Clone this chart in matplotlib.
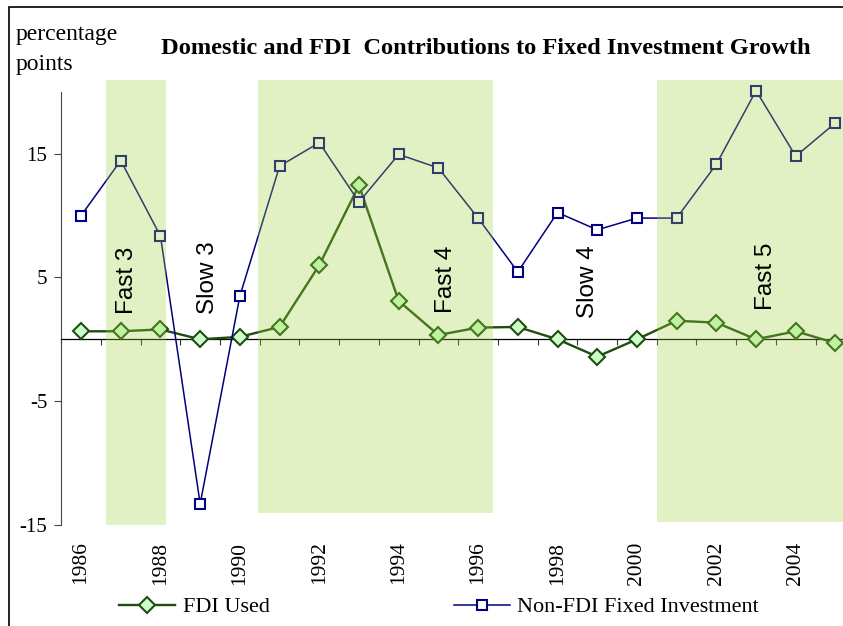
import numpy as np
import matplotlib.pyplot as plt
from matplotlib.patches import Rectangle

# contributions to fixed investment growth, percentage points
years = np.arange(1986, 2006)
fdi_used = [0.65, 0.65, 0.8, 0.0, 0.2, 1.0, 6.0, 12.45, 3.1, 0.35,
            0.95, 1.0, 0.0, -1.4, 0.0, 1.5, 1.35, 0.0, 0.65, -0.3]
non_fdi = [10.0, 14.45, 8.35, -13.3, 3.5, 14.0, 15.9, 11.1, 14.95, 13.85,
           9.8, 5.45, 10.25, 8.85, 9.8, 9.8, 14.15, 20.1, 14.8, 17.5]

# fast growth phases (shaded) and phase labels
fast_start = [1986.63, 1990.46, 2000.5]
fast_end = [1988.13, 1996.37, 2006.0]
fast_bottom = [-15.0, -14.0, -14.8]
phase_names = ["Fast 3", "Slow 3", "Fast 4", "Slow 4", "Fast 5"]
phase_x = [1987.16, 1989.2, 1995.2, 1998.77, 2003.25]
phase_y = [2.05, 2.05, 2.1, 1.72, 2.37]

SERIF = "Liberation Serif"
SANS = "Liberation Sans"

fig = plt.figure(figsize=(8.43, 6.26), dpi=100)
ax = fig.add_axes([0.0726, 0.1615, 0.942, 0.6917])
ax.set_xlim(1985.5, 2005.5)
ax.set_ylim(-15, 20)

ax.plot(years, fdi_used, color='#1e4d0f', lw=1.7, marker='D', ms=8,
        mfc='#ccffcc', mec='#1e4d0f', mew=1.5, label='FDI Used',
        zorder=3, clip_on=False)
ax.plot(years, non_fdi, color='#000080', lw=1.1, marker='s', ms=7,
        mfc='white', mec='#000080', mew=1.5,
        label='Non-FDI Fixed Investment', zorder=3, clip_on=False)

# shading sits on top of the lines, like the original
for x0, x1, b in zip(fast_start, fast_end, fast_bottom):
    ax.add_patch(Rectangle((x0, b), x1 - x0, 20.96 - b, facecolor='#a0d23c',
                           alpha=0.3, lw=0, zorder=4, clip_on=False))

for name, x, y in zip(phase_names, phase_x, phase_y):
    ax.text(x, y, name, rotation=90, ha='center', va='bottom',
            fontsize=17.5, family=SANS, zorder=5)

# axes: zero line with category ticks, labels at the bottom
for s in ['top', 'right']:
    ax.spines[s].set_visible(False)
ax.spines['bottom'].set_position(('data', 0))
ax.spines['bottom'].set_color('black')
ax.spines['bottom'].set_linewidth(0.9)
ax.spines['left'].set_color('#444444')
ax.set_xticks(np.arange(years[0] - 0.5, years[-1] + 1, 1))
ax.tick_params(axis='x', length=4, direction='out', labelbottom=False,
               color='#333333')
ax.set_yticks([-15, -5, 5, 15])
ax.set_yticklabels(['-15', '-5', '5', '15'], family=SERIF, fontsize=15)
ax.tick_params(axis='y', length=5, color='#444444', pad=5)

sec = ax.secondary_xaxis('bottom')
sec.set_xticks(years[::2])
sec.set_xticklabels([str(y) for y in years[::2]], rotation=90,
                    family=SERIF, fontsize=15.5)
sec.tick_params(length=0, pad=12)
sec.spines['bottom'].set_visible(False)

fig.text(0.576, 0.923, 'Domestic and FDI  Contributions to Fixed Investment Growth',
         ha='center', va='center', fontsize=17.6, fontweight='bold', family=SERIF)
fig.text(0.018, 0.962, 'percentage\npoints', ha='left', va='top',
         fontsize=17, family=SERIF, linespacing=1.6)

fig.legend(loc='center', bbox_to_anchor=(0.521, 0.03), ncol=2, frameon=False,
           prop={'family': SERIF, 'size': 16}, handlelength=2.5,
           handletextpad=0.35, columnspacing=8.3)

# outer frame (only top and left edges show)
fig.patches.append(Rectangle((9 / 843, -0.1), 1.2, 0.9888 + 0.1,
                             transform=fig.transFigure, fill=False,
                             ec='black', lw=1.2))

fig.savefig('out.png', dpi=100)
